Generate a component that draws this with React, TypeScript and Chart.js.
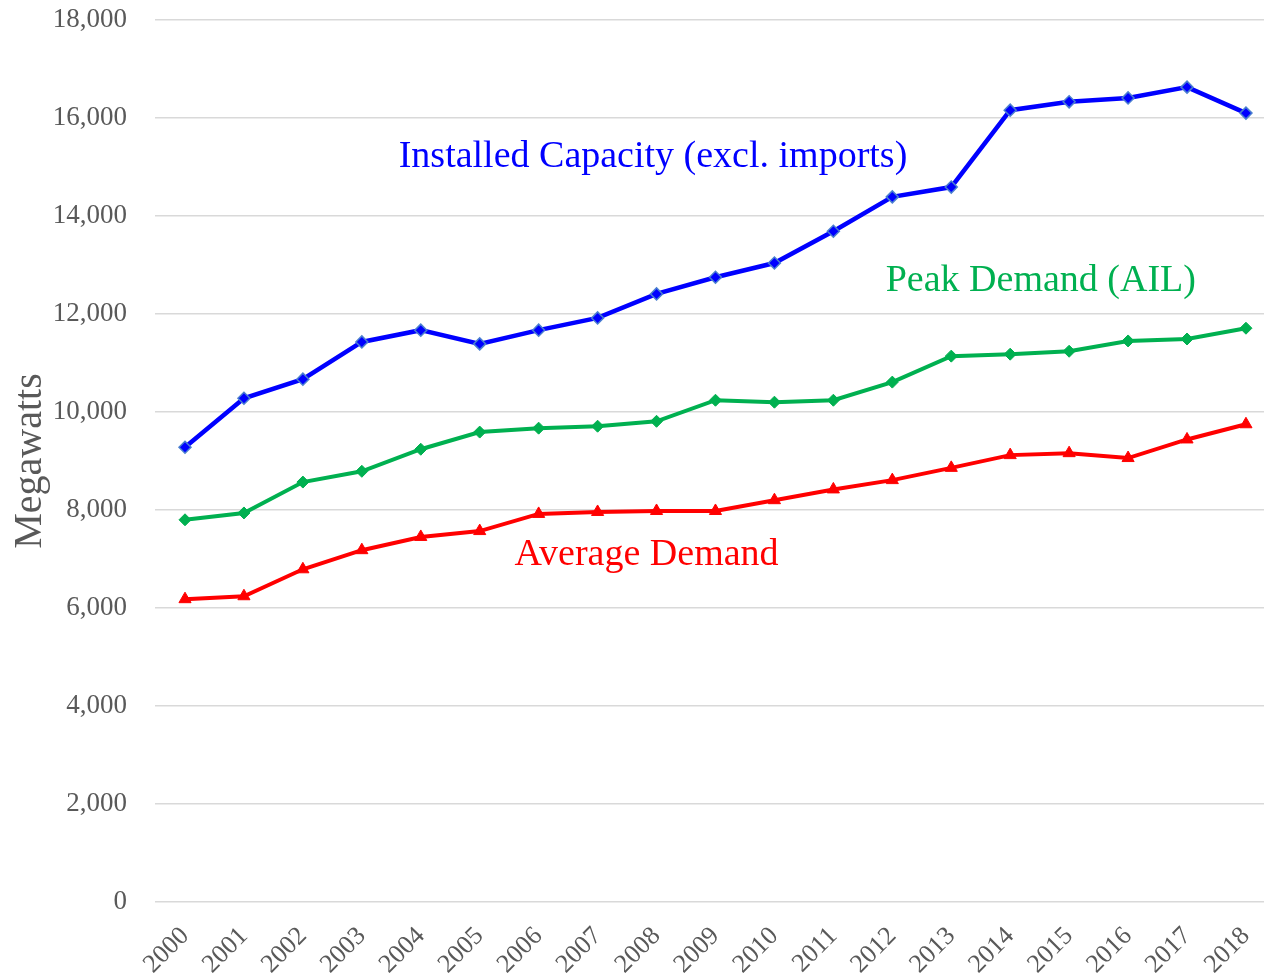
import React, { useEffect, useRef } from "react";
import { Chart, registerables } from "chart.js";

Chart.register(...registerables);

const years = [2000, 2001, 2002, 2003, 2004, 2005, 2006, 2007, 2008, 2009, 2010, 2011, 2012, 2013, 2014, 2015, 2016, 2017, 2018];

const installedCapacity = [9280, 10280, 10670, 11430, 11670, 11390, 11670, 11920, 12410, 12750, 13040, 13690, 14390, 14590, 16160, 16330, 16410, 16630, 16100];
const peakDemand = [7800, 7940, 8570, 8790, 9240, 9590, 9670, 9710, 9810, 10240, 10200, 10240, 10610, 11140, 11180, 11240, 11450, 11490, 11710];
const averageDemand = [6180, 6240, 6790, 7180, 7450, 7570, 7920, 7960, 7980, 7980, 8200, 8420, 8610, 8860, 9120, 9160, 9060, 9440, 9750];

const yTicks = [0, 2000, 4000, 6000, 8000, 10000, 12000, 14000, 16000, 18000];

const labels = [
  { text: "Installed Capacity (excl. imports)", x: 2007.94, y: 15000, color: "#0000ff" },
  { text: "Peak Demand (AIL)", x: 2014.52, y: 12470, color: "#00b050" },
  { text: "Average Demand", x: 2007.83, y: 6880, color: "#ff0000" },
];

const FONT = "'Liberation Serif', 'Times New Roman', serif";
const GRAY = "#595959";

const textPlugin = {
  id: "seriesText",
  afterDraw(chart: any) {
    const ctx = chart.ctx;
    const xs = chart.scales.x;
    const ys = chart.scales.y;
    ctx.save();
    ctx.font = `38px ${FONT}`;
    ctx.textAlign = "center";
    ctx.textBaseline = "alphabetic";
    for (const l of labels) {
      ctx.fillStyle = l.color;
      ctx.fillText(l.text, xs.getPixelForValue(l.x), ys.getPixelForValue(l.y));
    }
    ctx.restore();
  },
};

export default function App() {
  const ref = useRef<HTMLCanvasElement | null>(null);

  useEffect(() => {
    if (!ref.current) return;
    const mk = (vals: number[]) => years.map((y, i) => ({ x: y, y: vals[i] }));
    const chart = new Chart(ref.current, {
      type: "line",
      data: {
        datasets: [
          {
            label: "Installed Capacity (excl. imports)",
            data: mk(installedCapacity),
            borderColor: "#0000ff",
            backgroundColor: "#0000ff",
            borderWidth: 4.5,
            pointStyle: "rectRot",
            pointRadius: 6,
            pointBorderColor: "#4a7fd0",
            pointBackgroundColor: "#0000ff",
            pointBorderWidth: 1.5,
            tension: 0,
          },
          {
            label: "Peak Demand (AIL)",
            data: mk(peakDemand),
            borderColor: "#00b050",
            backgroundColor: "#00b050",
            borderWidth: 4,
            pointStyle: "rectRot",
            pointRadius: 6,
            pointBorderColor: "#00b050",
            pointBackgroundColor: "#00b050",
            pointBorderWidth: 1,
            tension: 0,
          },
          {
            label: "Average Demand",
            data: mk(averageDemand),
            borderColor: "#ff0000",
            backgroundColor: "#ff0000",
            borderWidth: 4,
            pointStyle: "triangle",
            pointRadius: 7,
            pointBorderColor: "#ff0000",
            pointBackgroundColor: "#ff0000",
            pointBorderWidth: 1,
            tension: 0,
          },
        ],
      },
      options: {
        responsive: false,
        animation: false,
        layout: { padding: { top: 20, left: 0, right: 0, bottom: 0 } },
        plugins: { legend: { display: false }, tooltip: { enabled: false } },
        scales: {
          x: {
            type: "linear",
            min: 1999.491,
            max: 2018.306,
            grid: { display: false, drawTicks: false },
            border: { display: false },
            afterBuildTicks: (scale: any) => {
              scale.ticks = years.map((v) => ({ value: v }));
            },
            afterFit: (scale: any) => {
              scale.height = 77;
              scale.paddingLeft = 0;
              scale.paddingRight = 0;
            },
            ticks: {
              autoSkip: false,
              minRotation: 45,
              maxRotation: 45,
              padding: 19,
              color: GRAY,
              font: { family: FONT, size: 26 },
              callback: (v: any) => String(v),
            },
          },
          y: {
            min: 0,
            max: 18000,
            afterBuildTicks: (scale: any) => {
              scale.ticks = yTicks.map((v) => ({ value: v }));
            },
            afterFit: (scale: any) => {
              scale.width = 155;
              scale.paddingTop = 0;
              scale.paddingBottom = 0;
            },
            grid: { color: "#d9d9d9", lineWidth: 1.5, drawTicks: false },
            border: { display: false },
            ticks: {
              padding: 28,
              color: GRAY,
              font: { family: FONT, size: 27 },
              callback: (v: any) => Number(v).toLocaleString("en-US"),
            },
            title: {
              display: true,
              text: "Megawatts",
              color: GRAY,
              font: { family: FONT, size: 40 },
              padding: { top: 6, bottom: 0 },
            },
          },
        },
      },
      plugins: [textPlugin],
    } as any);
    return () => chart.destroy();
  }, []);

  return (
    <div style={{ position: "absolute", left: 0, top: 0, width: 1264, height: 979, overflow: "hidden", background: "#fff" }}>
      <canvas ref={ref} width={1272} height={979} style={{ display: "block" }} />
    </div>
  );
}
